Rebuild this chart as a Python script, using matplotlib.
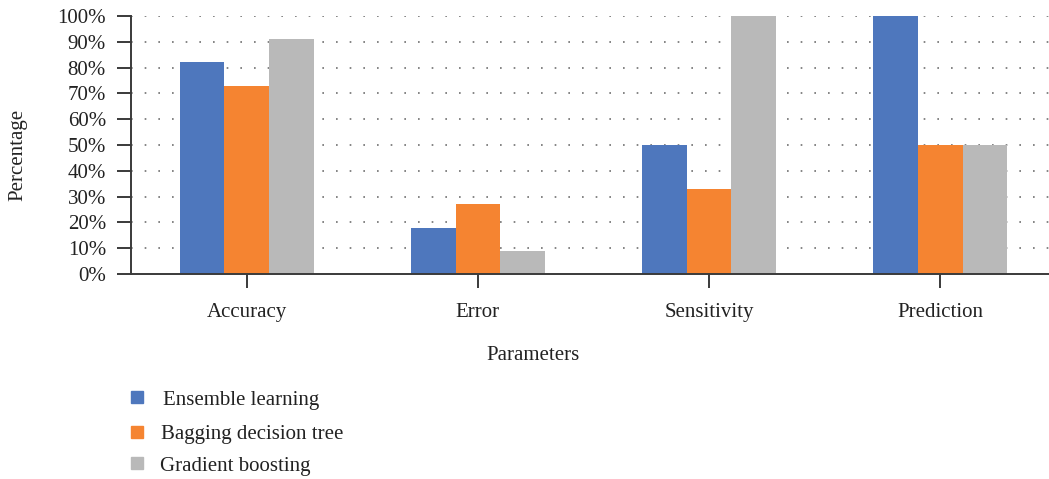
import matplotlib
matplotlib.use("Agg")
import matplotlib.pyplot as plt
import numpy as np
from matplotlib.patches import Rectangle

# values in percent
categories = ["Accuracy", "Error", "Sensitivity", "Prediction"]
ensemble = [82, 18, 50, 100]
bagging = [73, 27, 33, 50]
boosting = [91, 9, 100, 50]
series_names = ["Ensemble learning", "Bagging decision tree", "Gradient boosting"]
colors = ["#4E77BD", "#F58431", "#B9B9B9"]
yticks = list(range(0, 101, 10))

plt.rcParams["font.family"] = ["Liberation Serif", "DejaVu Serif"]
axis_color = "#3a3a3a"
text_color = "#222222"
fs = 15

fig = plt.figure(figsize=(10.49, 4.79), dpi=100)
ax = fig.add_axes([131 / 1049, 1 - 274 / 479, 925 / 1049, 258 / 479])

x = np.arange(len(categories))
w = 0.193
for i, (vals, c) in enumerate(zip([ensemble, bagging, boosting], colors)):
    ax.bar(x + (i - 1) * w, vals, width=w, color=c, zorder=3)

ax.set_xlim(-0.5, 3.5)
ax.set_ylim(0, 100)
ax.set_yticks(yticks)
ax.set_yticklabels([f"{t}%" for t in yticks])
ax.set_xticks(x)
ax.set_xticklabels(categories)

# dotted horizontal grid
for t in yticks[1:]:
    ax.axhline(t, color="#6f6f6f", lw=1.2, linestyle=(0, (1, 7.2)), zorder=1)

for s in ["top", "right"]:
    ax.spines[s].set_visible(False)
for s in ["left", "bottom"]:
    ax.spines[s].set_color(axis_color)
    ax.spines[s].set_linewidth(1.4)
ax.spines["bottom"].set_zorder(4)

ax.tick_params(axis="y", length=10, width=1.4, color=axis_color,
               labelsize=fs, pad=8, labelcolor=text_color)
ax.tick_params(axis="x", length=10, width=1.4, color=axis_color,
               labelsize=fs, pad=11, labelcolor=text_color)

fig.text(533 / 1049, 1 - 355 / 479, "Parameters", fontsize=fs, color=text_color,
         ha="center", va="center")
fig.text(18 / 1049, 1 - 155 / 479, "Percentage", fontsize=fs, color=text_color,
         ha="center", va="center", rotation=90)

# legend drawn as separate rows
rows_y = [398, 433, 464]
text_x = [163, 161, 160]
for name, c, yy, tx in zip(series_names, colors, rows_y, text_x):
    fig.patches.append(Rectangle((131 / 1049, 1 - (yy + 5) / 479), 12 / 1049, 12 / 479,
                                 transform=fig.transFigure, color=c))
    fig.text(tx / 1049, 1 - (yy + 2) / 479, name, fontsize=fs, color=text_color,
             va="center", ha="left")

fig.savefig("out.png", dpi=100)
